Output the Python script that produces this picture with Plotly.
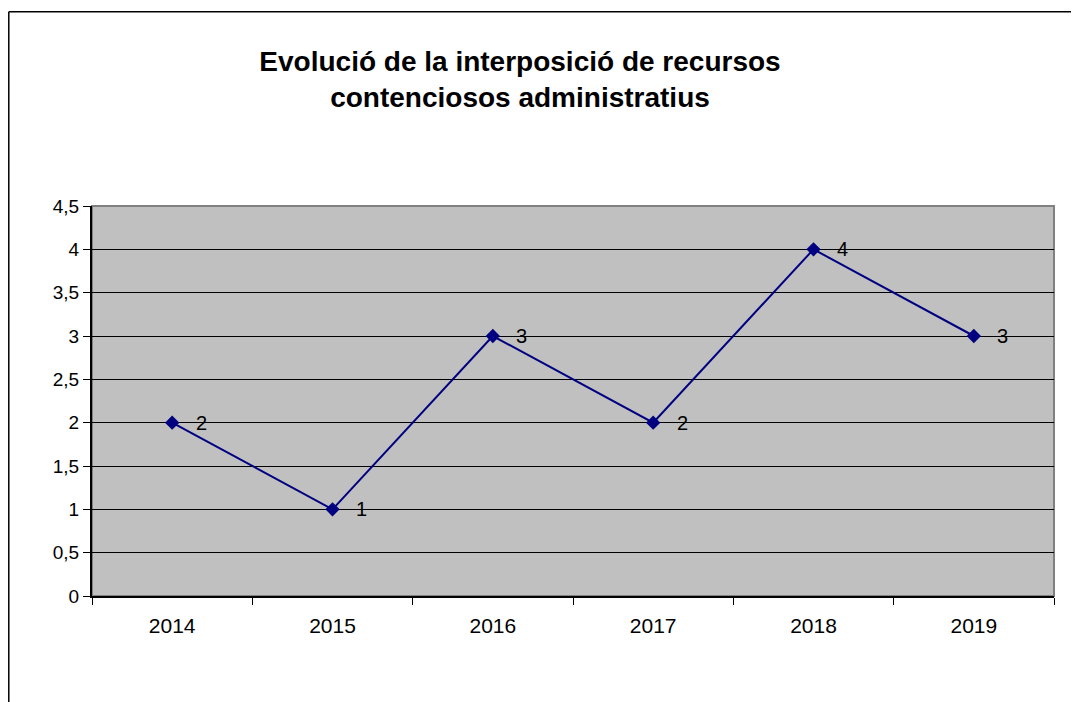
import plotly.graph_objects as go

# dades del gràfic
anys = ['2014', '2015', '2016', '2017', '2018', '2019']
recursos = [2, 1, 3, 2, 4, 3]
titol = 'Evolució de la interposició de recursos<br>contenciosos administratius'

blau = '#000080'
fons = '#C0C0C0'

# la pàgina té 8px de marge, així que la figura és una mica més petita
W, H = 1071, 694

fig = go.Figure()
fig.add_trace(go.Scatter(
    x=anys,
    y=recursos,
    mode='lines+markers',
    line=dict(color=blau, width=2),
    marker=dict(symbol='diamond', size=11, color=blau),
    hoverinfo='x+y',
    showlegend=False
))

# etiquetes de dades a la dreta de cada punt (x com a índex de categoria)
for i, v in enumerate(recursos):
    fig.add_annotation(x=i, y=v, text=str(v), showarrow=False,
                       xshift=29, yshift=0,
                       font=dict(family='Liberation Sans, Arial', size=20, color='#000000'))

# marc del gràfic (només es veuen la vora superior i l'esquerra)
fig.add_shape(type='line', xref='paper', yref='paper',
              x0=-0.0865, x1=1.2, y0=1.498, y1=1.498,
              line=dict(color='#000000', width=1.5))
fig.add_shape(type='line', xref='paper', yref='paper',
              x0=-0.0865, x1=-0.0865, y0=1.498, y1=-0.5,
              line=dict(color='#000000', width=1.5))
# vora grisa de l'àrea de traçat
fig.add_shape(type='rect', xref='paper', yref='paper',
              x0=0, x1=1, y0=0, y1=1, layer='below',
              line=dict(color='#808080', width=2))

fig.update_layout(
    width=W, height=H,
    template='none',
    separators=',.',
    paper_bgcolor='#FFFFFF',
    plot_bgcolor=fons,
    margin=dict(l=84, r=25, t=198, b=106),
    font=dict(family='Liberation Sans, Arial', color='#000000'),
    title=dict(text='<b>' + titol + '</b>', x=512/W, xanchor='center',
               xref='container', yref='container', y=1 - 63/H, yanchor='middle',
               font=dict(size=28, color='#000000')),
    xaxis=dict(type='category', range=[-0.5, 5.5], tickson='boundaries',
               ticks='outside', ticklen=7, tickcolor='#000000', tickwidth=1,
               ticklabelstandoff=10,
               showline=True, linecolor='#000000', linewidth=2,
               showgrid=False, zeroline=False,
               tickfont=dict(size=21)),
    yaxis=dict(range=[0, 4.5], dtick=0.5, tick0=0,
               ticks='outside', ticklen=7, tickcolor='#000000', tickwidth=1,
               showline=True, linecolor='#000000', linewidth=2,
               showgrid=True, gridcolor='#000000', gridwidth=1,
               zeroline=False, tickfont=dict(size=19))
)

fig.write_html('out.html')
